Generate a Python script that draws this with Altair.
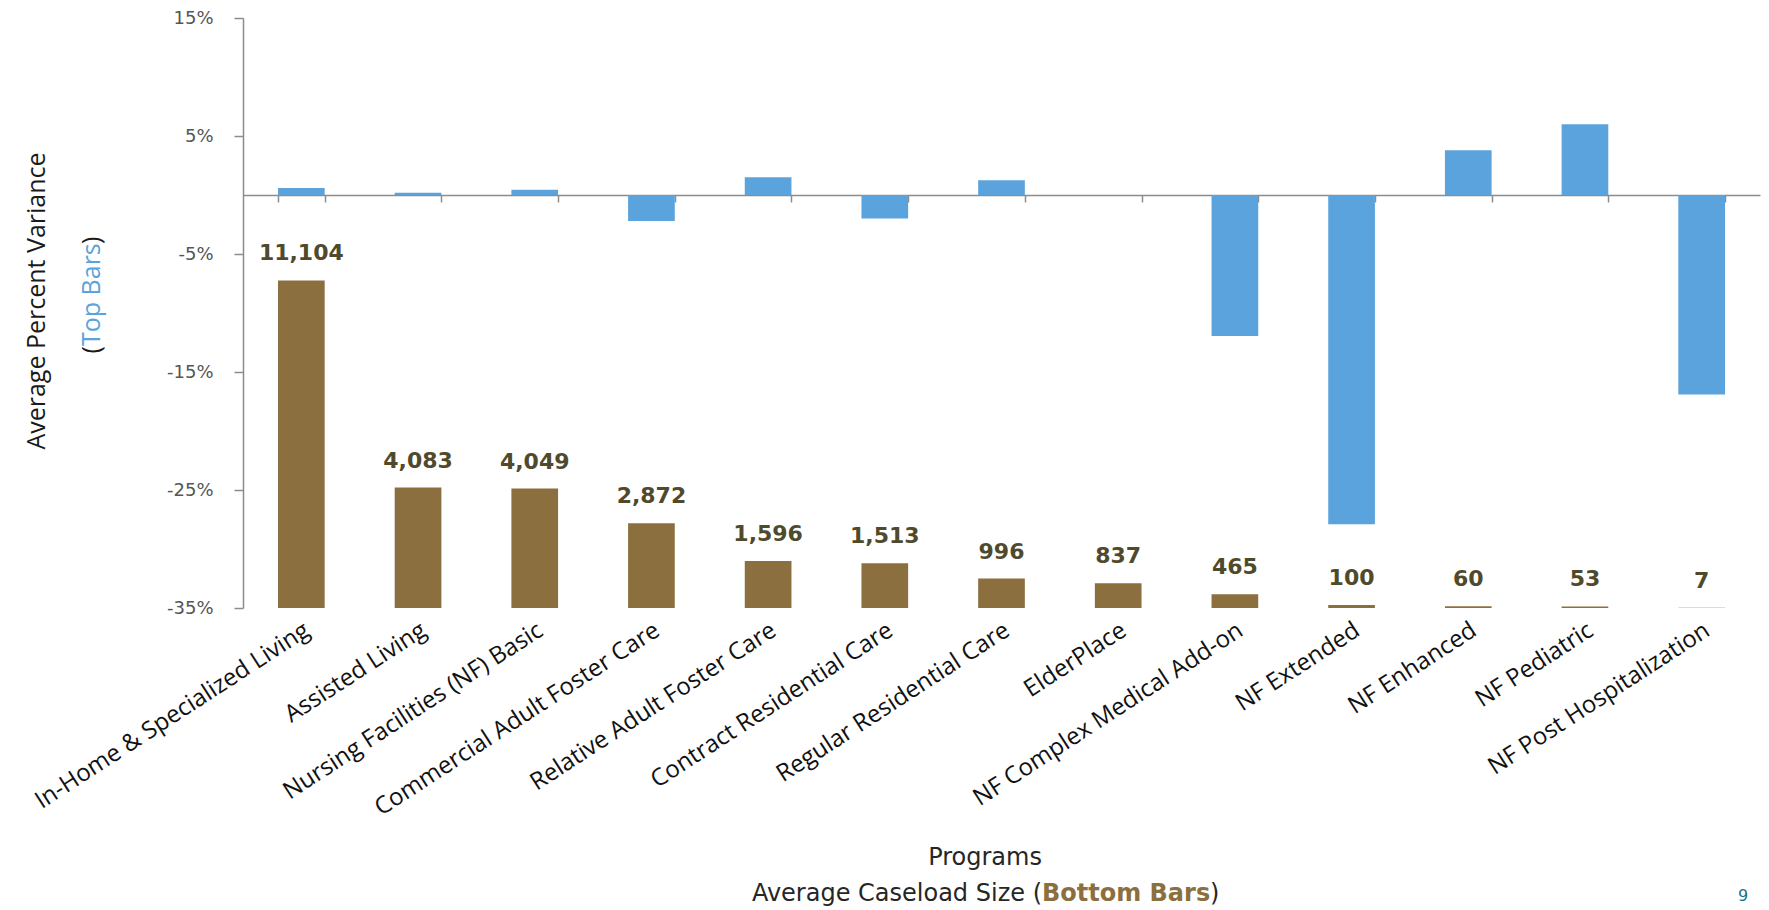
import altair as alt
import pandas as pd

programs = [
    "In-Home & Specialized Living",
    "Assisted Living",
    "Nursing Facilities (NF) Basic",
    "Commercial Adult Foster Care",
    "Relative Adult Foster Care",
    "Contract Residential Care",
    "Regular Residential Care",
    "ElderPlace",
    "NF Complex Medical Add-on",
    "NF Extended",
    "NF Enhanced",
    "NF Pediatric",
    "NF Post Hospitalization",
]
variance = [0.6, 0.2, 0.45, -2.2, 1.5, -2.0, 1.25, 0.0, -11.95, -27.9, 3.8, 6.0, -16.9]
caseload = [11104, 4083, 4049, 2872, 1596, 1513, 996, 837, 465, 100, 60, 53, 7]
y_ticks = [-35, -25, -15, -5, 5, 15]

BLUE = "#5BA3DC"
BROWN = "#8B6F3E"
LABEL = "#504A2C"
GREY = "#8C8C8C"

df = pd.DataFrame({"program": programs, "variance": variance, "caseload": caseload})

W, H = 1517, 590
xscale = alt.Scale(domain=programs, paddingInner=0.6, paddingOuter=0.3)

blue = alt.Chart(df).mark_bar(color=BLUE).encode(
    x=alt.X("program:N", scale=xscale, sort=programs,
            axis=alt.Axis(orient="bottom", offset=-413, labels=False, title=None,
                          tickBand="extent", ticks=True, tickSize=7, tickWidth=1.5,
                          tickColor=GREY, domainColor=GREY, domainWidth=1.5)),
    y=alt.Y("variance:Q", scale=alt.Scale(domain=[-35, 15], nice=False, zero=False),
            axis=alt.Axis(values=y_ticks, labelExpr="datum.value + '%'", title=None,
                          grid=False, tickSize=9, tickWidth=1.5, tickColor=GREY,
                          domainColor=GREY, domainWidth=1.5, labelPadding=21,
                          labelFont="DejaVu Sans", labelFontSize=18, labelColor="#555555")),
)

brown_scale = alt.Scale(domain=[0, 20000], nice=False)

brown = alt.Chart(df).mark_bar(color=BROWN).encode(
    x=alt.X("program:N", scale=xscale, sort=programs,
            axis=alt.Axis(orient="bottom", title=None, ticks=False, domain=False,
                          labelAngle=-33, labelAlign="right", labelBaseline="middle",
                          labelPadding=20, labelOffset=6, labelLimit=600,
                          labelFont="Open Sans", labelFontSize=24, labelColor="#111111")),
    y=alt.Y("caseload:Q", scale=brown_scale, axis=None),
)

brown_text = alt.Chart(df).mark_text(
    font="DejaVu Sans", fontWeight="bold", fontSize=22, color=LABEL,
    baseline="middle", dy=-27,
).encode(
    x=alt.X("program:N", scale=xscale, sort=programs, axis=None),
    y=alt.Y("caseload:Q", scale=brown_scale, axis=None),
    text=alt.Text("caseload:Q", format=","),
)


def txt(s, x, y, **kw):
    return alt.Chart(pd.DataFrame({"t": [s]})).mark_text(**kw).encode(
        text="t:N", x=alt.value(x), y=alt.value(y))


ytitle_kw = dict(font="Open Sans", fontSize=25, angle=270, baseline="middle")
y1 = txt("Average Percent Variance", -206, 283, color="#1a1a1a", align="center", **ytitle_kw)
y2a = txt("(", -151, 328, color="#1a1a1a", align="right", **ytitle_kw)
y2b = txt("Top Bars", -151, 328, color=BLUE, align="left", **ytitle_kw)
y2c = txt(")", -151, 226, color="#1a1a1a", align="left", **ytitle_kw)

xt_kw = dict(font="DejaVu Sans", fontSize=24, baseline="middle")
x1 = txt("Programs", 742, 840, color="#262626", align="center", **xt_kw)
x2a = txt("Average Caseload Size (", 799, 876, color="#262626", align="right", **xt_kw)
x2b = txt("Bottom Bars", 799, 876, color=BROWN, align="left", fontWeight="bold",
          font="DejaVu Sans", fontSize=24, baseline="middle")
x2c = txt(")", 967, 876, color="#262626", align="left", **xt_kw)
pg = txt("9", 1500, 886, color="#1D6F8A", align="center", font="DejaVu Sans",
         fontSize=16, baseline="bottom")

chart = alt.layer(
    blue, brown, brown_text, y1, y2a, y2b, y2c, x1, x2a, x2b, x2c, pg
).resolve_scale(y="independent").resolve_axis(x="independent", y="independent").properties(
    width=W, height=H,
    autosize=alt.AutoSizeParams(type="none"),
    padding={"left": 235, "top": 10, "right": 1, "bottom": 300},
).configure_view(stroke=None)

chart.save("out.html", embed_options={"renderer": "svg", "actions": False})
